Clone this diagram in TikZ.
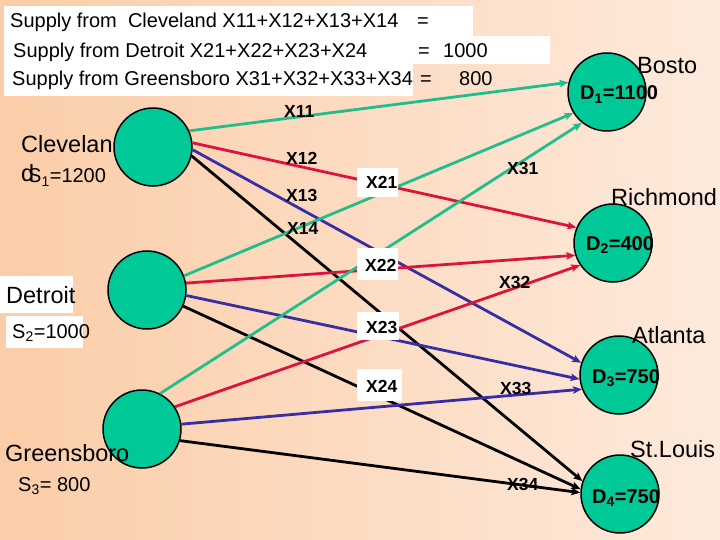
\documentclass[tikz,border=0pt]{standalone}
\usepackage{fontspec}
\setmainfont{Liberation Sans}
\usetikzlibrary{arrows.meta}
\definecolor{bgL}{RGB}{251,205,168}
\definecolor{bgR}{RGB}{253,234,220}
\definecolor{nodegreen}{RGB}{0,200,150}
\definecolor{flowgreen}{RGB}{32,190,140}
\definecolor{flowred}{RGB}{220,20,60}
\definecolor{flowblue}{RGB}{55,45,165}
\tikzset{
  circ/.style={circle, draw=black, line width=1.5pt, fill=nodegreen, minimum size=78pt, inner sep=0pt},
  flow/.style={line width=2.8pt, -{Stealth[length=9pt,width=7.5pt,inset=2pt]}},
  hdr/.style={font=\fontsize{20}{24}\selectfont, inner sep=0pt, anchor=base west},
  city/.style={font=\fontsize{23.5}{28}\selectfont, inner sep=0pt, anchor=base west},
  slab/.style={font=\fontsize{20}{24}\selectfont, inner sep=0pt, anchor=base west},
  dlab/.style={font=\bfseries\fontsize{20}{24}\selectfont, inner sep=0pt, anchor=base west},
  xlab/.style={font=\bfseries\fontsize{17.5}{20}\selectfont, inner sep=0pt, anchor=base west},
}
\begin{document}
\begin{tikzpicture}[x=1pt,y=-1pt]
\useasboundingbox (0,0) rectangle (720,540);
\shade[left color=bgL,right color=bgR] (0,0) rectangle (720,540);
% header boxes
\fill[white] (4,6) rectangle (473,36);
\fill[white] (4,36) rectangle (550,64);
\fill[white] (4,64) rectangle (413,96);
\node[hdr] (h1) at (10,28) {Supply from\ \ Cleveland X11+X12+X13+X14};
\node[hdr] (h1e) at (417,28) {=};
\node[hdr] (h2) at (13,58) {Supply from Detroit X21+X22+X23+X24};
\node[hdr] (h2e) at (418,58) {=};
\node[hdr] (h2v) at (443,58) {1000};
\node[hdr] (h3) at (12,86) {Supply from Greensboro X31+X32+X33+X34};
\node[hdr] (h3e) at (420,86) {=};
\node[hdr] (h3v) at (459,86) {800};
% circles
\node[circ] (cle) at (153,147) {};
\node[circ] (det) at (147,290) {};
\node[circ] (gre) at (142,429) {};
\node[circ] (d1) at (607,92) {};
\node[circ] (d2) at (613,243) {};
\node[circ] (d3) at (619,375) {};
\node[circ] (d4) at (620,494) {};
% flows from Cleveland
\draw[flow, flowgreen] (cle.24) -- (d1.166);
\draw[flow, flowred] (cle.6) -- (d2.157);
\draw[flow, flowblue] (cle.-4) -- (d3.162);
\draw[flow, black] (cle.-13) -- (d4.161);
% flows from Detroit
\draw[flow, flowgreen] (det.21) -- (d1.212);
\draw[flow, flowred] (det.10) -- (d2.198);
\draw[flow, flowblue] (det.-8) -- (d3.186);
\draw[flow, black] (det.-24) -- (d4.173);
% flows from Greensboro
\draw[flow, flowgreen] (gre.63) -- (d1.231);
\draw[flow, flowred] (gre.34) -- (d2.214);
\draw[flow, flowblue] (gre.7) -- (d3.201);
\draw[flow, black] (gre.-17) -- (d4.178);
% flow labels
\node[xlab] (x11) at (284,118) {X11};
\node[xlab] (x12) at (286,165) {X12};
\node[xlab] (x13) at (286,202) {X13};
\node[xlab] (x14) at (287,235) {X14};
\fill[white] (357,168) rectangle (398,197);
\node[xlab] (x21) at (366,189) {X21};
\fill[white] (357,248) rectangle (398,280);
\node[xlab] (x22) at (365,271) {X22};
\fill[white] (357,312) rectangle (399,340);
\node[xlab] (x23) at (366,333) {X23};
\fill[white] (357,369) rectangle (402,401);
\node[xlab] (x24) at (366,392) {X24};
\node[xlab] (x31) at (507,175) {X31};
\node[xlab] (x32) at (499,288) {X32};
\node[xlab] (x33) at (500,394) {X33};
\node[xlab] (x34) at (507,490) {X34};
% demand labels
\node[dlab] (d1l) at (580,100) {D\textsubscript{1}=1100};
\node[dlab] (d2l) at (586,250) {D\textsubscript{2}=400};
\node[dlab] (d3l) at (592,383) {D\textsubscript{3}=750};
\node[dlab] (d4l) at (592,503) {D\textsubscript{4}=750};
% city labels
\node[city] (bos) at (637,74) {Bosto};
\node[city] (ric) at (611,206) {Richmond};
\node[city] (atl) at (632,343) {Atlanta};
\node[city] (stl) at (630,457) {St.Louis};
\node[city] (clev) at (21,153) {Clevelan};
\node[city] (clevd) at (21,182) {d};
\node[slab] (s1) at (28,183) {S\textsubscript{1}=1200};
\fill[white] (0,276) rectangle (73,313);
\node[city] (detl) at (6,303) {Detroit};
\fill[white] (6,316) rectangle (83,348);
\node[slab] (s2) at (12,338) {S\textsubscript{2}=1000};
\node[city] (grel) at (5,461) {Greensboro};
\node[slab] (s3) at (18,491) {S\textsubscript{3}= 800};
\end{tikzpicture}
\end{document}
